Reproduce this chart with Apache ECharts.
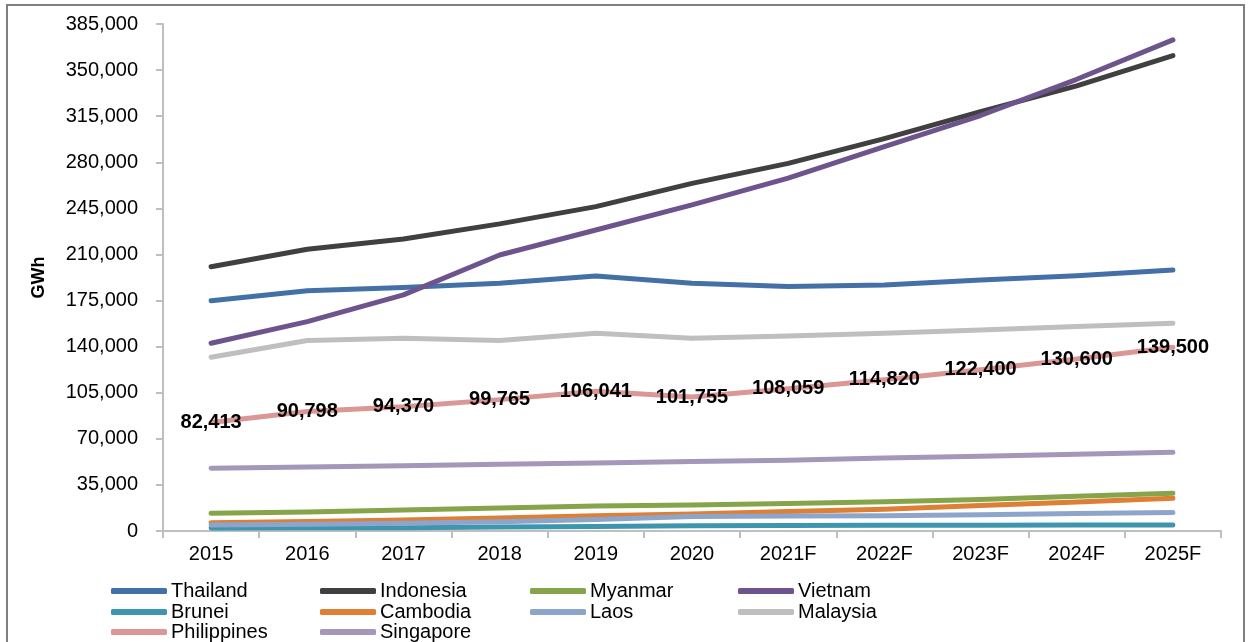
<!DOCTYPE html>
<html>
<head>
<meta charset="UTF-8">
<title>GWh</title>
<script src="https://cdn.jsdelivr.net/npm/echarts@6/dist/echarts.min.js"></script>
<style>
    html, body { margin: 0; padding: 0; background: #fff; }
    #chart { width: 1252px; height: 642px; }
</style>
</head>
<body>
<div id="chart"></div>
<script>
    // data (GWh)
    var years = ['2015', '2016', '2017', '2018', '2019', '2020', '2021F', '2022F', '2023F', '2024F', '2025F'];
    var thailand    = [174900, 182500, 185000, 188100, 193700, 188100, 185600, 186800, 190600, 193800, 198200];
    var indonesia   = [200700, 214000, 221800, 233200, 246300, 264000, 279200, 298000, 318500, 338000, 361000];
    var myanmar     = [13400, 14500, 16000, 17500, 19000, 19800, 20800, 22300, 24000, 26300, 28700];
    var vietnam     = [142600, 159000, 179300, 209600, 228600, 247600, 267900, 291900, 315500, 343000, 372900];
    var brunei      = [2300, 2400, 2500, 3000, 3500, 4000, 4200, 4300, 4400, 4500, 4600];
    var cambodia    = [6300, 7200, 8400, 9800, 11500, 13000, 14800, 16500, 19300, 22000, 24900];
    var laos        = [4600, 5200, 5800, 7000, 8800, 11000, 11300, 11600, 12300, 13200, 14000];
    var malaysia    = [132000, 144600, 146400, 144600, 150200, 146400, 148100, 150200, 152700, 155200, 157800];
    var philippines = [82413, 90798, 94370, 99765, 106041, 101755, 108059, 114820, 122400, 130600, 139500];
    var singapore   = [47600, 48600, 49600, 50600, 51700, 52700, 53800, 55500, 56800, 58200, 59800];

    var yTicks = { min: 0, max: 385000, step: 35000 };

    var seriesList = [
        { name: 'Thailand',    data: thailand,    color: '#4470A8' },
        { name: 'Indonesia',   data: indonesia,   color: '#404040' },
        { name: 'Myanmar',     data: myanmar,     color: '#86A44A' },
        { name: 'Vietnam',     data: vietnam,     color: '#6E548D' },
        { name: 'Brunei',      data: brunei,      color: '#3E96AE' },
        { name: 'Cambodia',    data: cambodia,    color: '#DD7F35' },
        { name: 'Laos',        data: laos,        color: '#8EA5CB' },
        { name: 'Malaysia',    data: malaysia,    color: '#BFBFBF' },
        { name: 'Philippines', data: philippines, color: '#DB9796' },
        { name: 'Singapore',   data: singapore,   color: '#A497B9' }
    ];

    // legend grid: 4 columns, rows of ~20px
    var legendColX = [111, 320, 530, 738];
    var legendRowY = [581, 602, 622];

    var FONT = '"Liberation Sans", Arial, sans-serif';

    function fmt(v) {
        return Number(v).toLocaleString('en-US');
    }

    var chart = echarts.init(document.getElementById('chart'));

    // one legend per entry so the columns line up like the original
    var legends = seriesList.map(function (s, i) {
        return {
            orient: 'horizontal',
            left: legendColX[i % 4],
            top: legendRowY[Math.floor(i / 4)],
            padding: 0,
            itemWidth: 56,
            itemHeight: 6,
            icon: 'roundRect',
            selectedMode: false,
            data: [s.name],
            textStyle: { fontFamily: FONT, fontSize: 20, color: '#000', lineHeight: 20, padding: [0, 0, 0, -1] }
        };
    });

    var option = {
        animation: false,
        backgroundColor: '#fff',
        textStyle: { fontFamily: FONT },
        graphic: [{
            type: 'rect',
            shape: { x: 7, y: 5, width: 1237, height: 700 },
            style: { fill: 'none', stroke: '#7F7F7F', lineWidth: 2 },
            silent: true
        }],
        legend: legends,
        grid: { left: 163, right: 31, top: 24, bottom: 111, containLabel: false },
        xAxis: {
            type: 'category',
            data: years,
            boundaryGap: true,
            axisLine: { lineStyle: { color: '#BFBFBF', width: 2 } },
            axisTick: { show: true, length: 7, lineStyle: { color: '#BFBFBF', width: 2 } },
            axisLabel: { color: '#000', fontSize: 20, margin: 13, fontFamily: FONT },
            splitLine: { show: false }
        },
        yAxis: {
            type: 'value',
            min: yTicks.min,
            max: yTicks.max,
            interval: yTicks.step,
            name: 'GWh',
            nameLocation: 'middle',
            nameRotate: 90,
            nameGap: 115,
            nameTextStyle: { color: '#000', fontSize: 18, fontWeight: 'bold', fontFamily: FONT },
            axisLine: { show: true, lineStyle: { color: '#BFBFBF', width: 2 } },
            axisTick: { show: true, length: 7, lineStyle: { color: '#BFBFBF', width: 2 } },
            axisLabel: { color: '#000', fontSize: 20, margin: 25, fontFamily: FONT, formatter: fmt },
            splitLine: { show: false }
        },
        series: seriesList.map(function (s) {
            var isPh = s.name === 'Philippines';
            return {
                name: s.name,
                type: 'line',
                data: s.data,
                symbol: 'circle',
                symbolSize: 1,
                showSymbol: isPh,
                itemStyle: { color: s.color },
                lineStyle: { color: s.color, width: 5, cap: 'round', join: 'round' },
                label: isPh ? {
                    show: true,
                    position: 'inside',
                    color: '#000',
                    fontSize: 20,
                    fontWeight: 'bold',
                    fontFamily: FONT,
                    formatter: function (p) { return fmt(p.value); }
                } : { show: false },
                emphasis: { disabled: true },
                z: 2
            };
        })
    };

    chart.setOption(option);
</script>
</body>
</html>
